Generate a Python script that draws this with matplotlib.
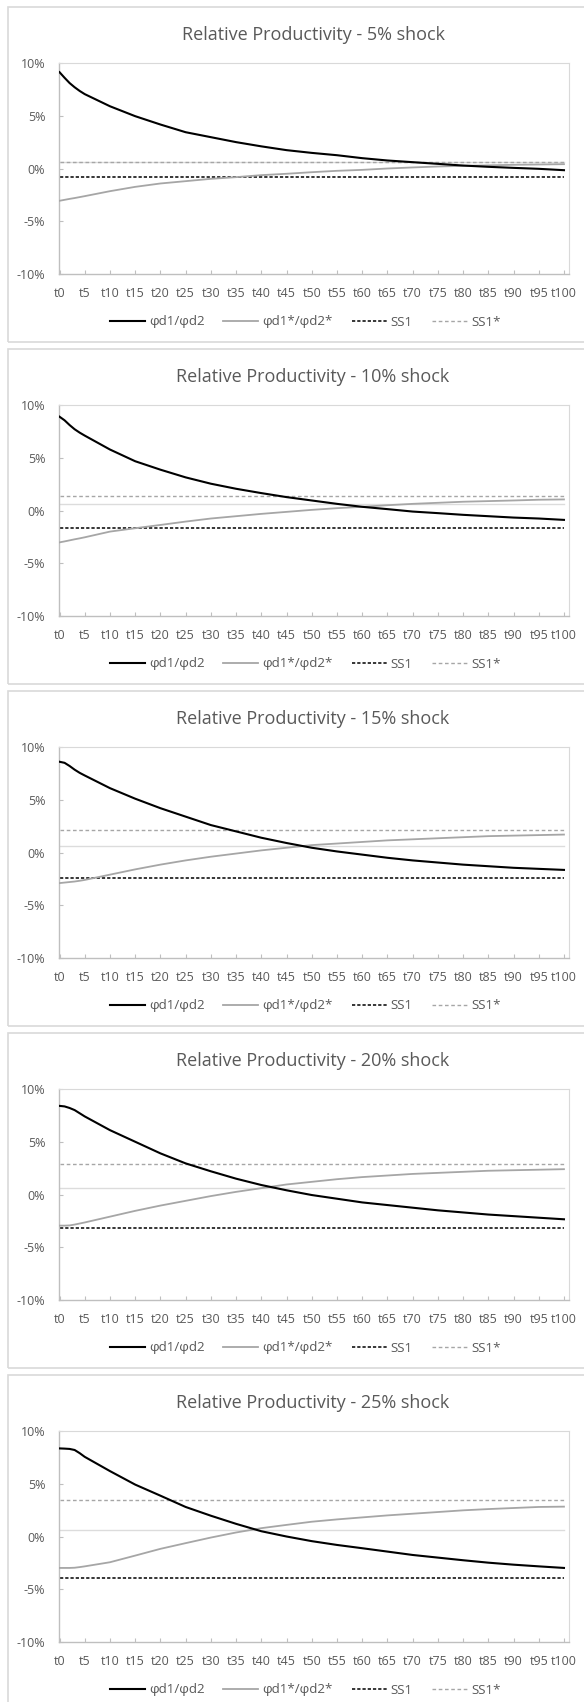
import matplotlib
matplotlib.use("Agg")
import matplotlib.pyplot as plt
from matplotlib.patches import Rectangle

# ---------------- data ----------------
periods = [0, 1, 2, 3, 4, 5, 10, 15, 20, 25, 30, 35, 40, 45, 50,
           55, 60, 65, 70, 75, 80, 85, 90, 95, 100]
tick_positions = list(range(0, 101, 5))
tick_labels = ["t%d" % p for p in tick_positions]
y_ticks = [-10, -5, 0, 5, 10]
y_tick_labels = ["-10%", "-5%", "0%", "5%", "10%"]

titles = ["Relative Productivity - 5% shock",
          "Relative Productivity - 10% shock",
          "Relative Productivity - 15% shock",
          "Relative Productivity - 20% shock",
          "Relative Productivity - 25% shock"]

# phi_d1 / phi_d2 (percent)
phi_5 = [9.13, 8.6, 8.1, 7.7, 7.35, 7.05, 5.9, 4.96, 4.17, 3.44, 2.97, 2.5, 2.1, 1.74,
         1.48, 1.26, 0.98, 0.76, 0.6, 0.44, 0.28, 0.16, 0.06, -0.03, -0.16]
phi_10 = [8.89, 8.55, 8.1, 7.7, 7.38, 7.1, 5.78, 4.67, 3.87, 3.14, 2.54, 2.06, 1.65, 1.27,
          0.95, 0.63, 0.35, 0.13, -0.1, -0.25, -0.41, -0.54, -0.67, -0.76, -0.89]
phi_15 = [8.6, 8.5, 8.2, 7.85, 7.55, 7.3, 6.1, 5.1, 4.2, 3.4, 2.6, 2.0, 1.4, 0.9,
          0.45, 0.1, -0.2, -0.5, -0.75, -0.95, -1.15, -1.3, -1.45, -1.55, -1.65]
phi_20 = [8.4, 8.35, 8.2, 8.0, 7.7, 7.4, 6.1, 5.0, 3.9, 2.95, 2.2, 1.5, 0.9, 0.4,
          -0.05, -0.4, -0.75, -1.0, -1.25, -1.5, -1.7, -1.9, -2.05, -2.2, -2.35]
phi_25 = [8.35, 8.33, 8.3, 8.2, 7.9, 7.55, 6.2, 4.92, 3.87, 2.8, 1.97, 1.2, 0.5, 0.0,
          -0.44, -0.8, -1.11, -1.43, -1.75, -2.0, -2.25, -2.48, -2.67, -2.83, -2.98]

# phi_d1* / phi_d2* (percent)
star_5 = [-3.06, -2.97, -2.88, -2.8, -2.71, -2.62, -2.15, -1.74, -1.42, -1.2, -0.98, -0.82,
          -0.63, -0.5, -0.35, -0.22, -0.13, 0.0, 0.1, 0.19, 0.25, 0.3, 0.35, 0.38, 0.41]
star_10 = [-3.02, -2.93, -2.83, -2.73, -2.64, -2.54, -2.0, -1.68, -1.37, -1.05, -0.76, -0.54,
           -0.32, -0.13, 0.06, 0.22, 0.35, 0.5, 0.63, 0.73, 0.83, 0.89, 0.95, 1.02, 1.05]
star_15 = [-2.9, -2.85, -2.8, -2.75, -2.68, -2.6, -2.1, -1.6, -1.15, -0.75, -0.4, -0.1,
           0.2, 0.45, 0.7, 0.85, 1.0, 1.15, 1.25, 1.35, 1.45, 1.55, 1.6, 1.65, 1.7]
star_20 = [-2.95, -2.95, -2.93, -2.85, -2.75, -2.65, -2.1, -1.55, -1.05, -0.6, -0.15, 0.25,
           0.6, 0.95, 1.2, 1.45, 1.65, 1.8, 1.95, 2.05, 2.15, 2.25, 2.3, 2.35, 2.4]
star_25 = [-2.98, -2.98, -2.98, -2.96, -2.9, -2.83, -2.44, -1.81, -1.17, -0.63, -0.1, 0.38,
           0.79, 1.1, 1.4, 1.62, 1.81, 2.0, 2.16, 2.32, 2.48, 2.6, 2.7, 2.8, 2.83]

# steady states (percent)
ss1_values = [-0.76, -1.62, -2.4, -3.2, -3.94]
ss1_star_values = [0.66, 1.4, 2.15, 2.85, 3.46]
ref_level_values = [0.62, 0.66, 0.62, 0.62, 0.6]   # light unlabeled reference line

phi_series = [phi_5, phi_10, phi_15, phi_20, phi_25]
star_series = [star_5, star_10, star_15, star_20, star_25]
legend_labels = ["φd1/φd2", "φd1*/φd2*", "SS1", "SS1*"]

# ---------------- layout ----------------
W, H = 584, 1702
plt.rcParams["font.family"] = ["Open Sans", "DejaVu Sans"]
fig = plt.figure(figsize=(W / 100, H / 100), dpi=100)

TXT = "#595959"
AXC = "#bfbfbf"
BOX = "#d9d9d9"

def fx(px):
    return px / W

def fy(py):
    return 1 - py / H

pitch = 342
box_top0 = 7
for i in range(5):
    top = box_top0 + pitch * i
    # chart frame
    fig.patches.append(Rectangle((fx(8), fy(top + 335)), fx(600) - fx(8),
                                 fy(top) - fy(top + 335), transform=fig.transFigure,
                                 fill=False, edgecolor=BOX, linewidth=1.2))
    pl, pr = 58.5, 568.5
    pt, pb = top + 56, top + 267
    ax = fig.add_axes([fx(pl), fy(pb), fx(pr) - fx(pl), fy(pt) - fy(pb)])
    ax.set_xlim(-0.2, 100.9)
    ax.set_ylim(-10, 10)

    xs = periods
    ax.plot([0, 100], [ref_level_values[i]] * 2, color="#dcdcdc", lw=1.0, zorder=1)
    l4, = ax.plot([0, 100], [ss1_star_values[i]] * 2, color="#a6a6a6", lw=1.0,
                  linestyle=(0, (2.6, 1.9)), zorder=2)
    l3, = ax.plot([0, 100], [ss1_values[i]] * 2, color="#262626", lw=1.3,
                  linestyle=(0, (1.8, 1.1)), zorder=2)
    l2, = ax.plot(xs, star_series[i], color="#a6a6a6", lw=1.3, zorder=3)
    l1, = ax.plot(xs, phi_series[i], color="#000000", lw=1.5, zorder=4)

    for side in ["top", "right"]:
        ax.spines[side].set_color(BOX)
        ax.spines[side].set_linewidth(0.8)
    for side in ["left", "bottom"]:
        ax.spines[side].set_color(AXC)
        ax.spines[side].set_linewidth(1.0)

    ax.set_yticks(y_ticks)
    ax.set_yticklabels(y_tick_labels)
    ax.set_xticks(tick_positions)
    ax.set_xticklabels(tick_labels)
    ax.tick_params(axis="both", direction="in", length=3, width=0.8, color=AXC,
                   labelcolor=TXT, labelsize=9.0)
    ax.tick_params(axis="y", pad=9.5)
    ax.tick_params(axis="x", pad=9.5)
    for lab in ax.get_yticklabels():
        lab.set_horizontalalignment("right")

    fig.text(fx(313), fy(top + 28), titles[i], ha="center", va="center",
             fontsize=13, color=TXT)

    ax.legend([l1, l2, l3, l4], legend_labels, loc="center",
              bbox_to_anchor=(fx(305), fy(top + 315)), bbox_transform=fig.transFigure,
              ncol=4, frameon=False, fontsize=9.6, handlelength=2.65,
              handletextpad=0.3, columnspacing=1.4, labelcolor=TXT)

fig.savefig("out.png", dpi=100, facecolor="white")
